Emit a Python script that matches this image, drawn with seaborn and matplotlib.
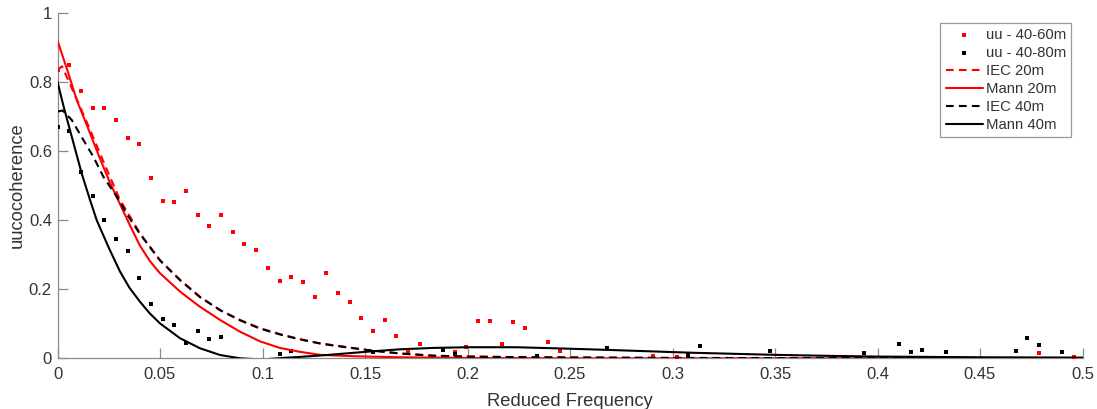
import numpy as np
import pandas as pd
import matplotlib
matplotlib.use("Agg")
import matplotlib.pyplot as plt
from matplotlib.ticker import FormatStrFormatter
import seaborn as sns

# Measured co-coherence, sampled on a reduced-frequency grid (step 0.0057)
DF = 0.0057
uu_4060_idx = [0, 1, 2, 3, 4, 5, 6, 7, 8, 9, 10, 11, 12, 13, 14, 15, 16, 17, 18, 19,
               20, 21, 22, 23, 24, 25, 26, 27, 28, 29, 30, 31, 34, 35, 36, 37, 38, 39,
               40, 42, 43, 51, 53, 84, 87]
uu_4060_val = [0.834, 0.848, 0.773, 0.723, 0.723, 0.690, 0.637, 0.619, 0.521, 0.456,
               0.451, 0.484, 0.414, 0.384, 0.415, 0.365, 0.332, 0.312, 0.260, 0.223,
               0.236, 0.220, 0.176, 0.246, 0.190, 0.162, 0.116, 0.080, 0.112, 0.065,
               0.017, 0.042, 0.017, 0.032, 0.108, 0.108, 0.041, 0.105, 0.089, 0.046,
               0.020, 0.006, 0.004, 0.014, 0.005]

uu_4080_idx = [0, 1, 2, 3, 4, 5, 6, 7, 8, 9, 10, 11, 12, 13, 14, 19, 20, 27, 33, 34,
               41, 47, 54, 55, 61, 69, 72, 73, 74, 76, 82, 83, 84, 86]
uu_4080_val = [0.670, 0.658, 0.538, 0.471, 0.401, 0.345, 0.310, 0.233, 0.157, 0.113,
               0.096, 0.043, 0.079, 0.056, 0.061, 0.012, 0.021, 0.019, 0.024, 0.013,
               0.008, 0.030, 0.010, 0.035, 0.020, 0.015, 0.041, 0.018, 0.023, 0.019,
               0.021, 0.059, 0.038, 0.017]

# Model curves
iec20_f = [0, 0.0022, 0.005, 0.011, 0.0159, 0.0207, 0.0256, 0.0305, 0.0354, 0.0402,
           0.05, 0.0598, 0.0695, 0.0793, 0.089, 0.0988, 0.1085, 0.118, 0.128, 0.1345,
           0.151, 0.167, 0.1833, 0.2, 0.23, 0.3, 0.4, 0.5]
iec20_c = [0.834, 0.845, 0.808, 0.728, 0.661, 0.593, 0.525, 0.458, 0.410, 0.362,
           0.284, 0.227, 0.178, 0.140, 0.111, 0.087, 0.070, 0.056, 0.043, 0.038,
           0.024, 0.014, 0.0075, 0.005, 0.003, 0.001, 0.0005, 0.0]

iec40_f = [0, 0.0025, 0.0069, 0.0126, 0.0175, 0.0224, 0.0289, 0.0346, 0.0402, 0.05,
           0.0598, 0.0695, 0.0793, 0.089, 0.0988, 0.1085, 0.118, 0.128, 0.1345, 0.151,
           0.167, 0.1833, 0.2, 0.23, 0.3, 0.4, 0.5]
iec40_c = [0.714, 0.717, 0.690, 0.632, 0.583, 0.525, 0.468, 0.410, 0.360, 0.283,
           0.226, 0.177, 0.139, 0.110, 0.086, 0.069, 0.055, 0.043, 0.037, 0.024,
           0.014, 0.0075, 0.005, 0.003, 0.001, 0.0005, 0.0]

mann20_f = [0, 0.005, 0.0094, 0.0159, 0.0207, 0.0256, 0.0305, 0.035, 0.0402, 0.045,
            0.05, 0.0598, 0.0695, 0.0793, 0.089, 0.0988, 0.1085, 0.118, 0.128, 0.14,
            0.151, 0.167, 0.2, 0.25, 0.3, 0.4, 0.5]
mann20_c = [0.919, 0.830, 0.747, 0.651, 0.578, 0.508, 0.446, 0.389, 0.326, 0.282,
            0.246, 0.193, 0.149, 0.111, 0.077, 0.049, 0.030, 0.019, 0.010, 0.007,
            0.005, 0.003, 0.001, 0.0, 0.0, 0.0, 0.0]

mann40_f = [0, 0.003, 0.0061, 0.0118, 0.0155, 0.0191, 0.025, 0.0305, 0.035, 0.0402,
            0.045, 0.05, 0.0598, 0.0695, 0.0793, 0.089, 0.095, 0.1004, 0.11, 0.118,
            0.128, 0.1345, 0.1508, 0.167, 0.1833, 0.1996, 0.224, 0.2484, 0.27, 0.31,
            0.35, 0.377, 0.4, 0.45, 0.5]
mann40_c = [0.800, 0.728, 0.660, 0.535, 0.465, 0.400, 0.320, 0.251, 0.205, 0.164,
            0.130, 0.101, 0.058, 0.029, 0.0095, 0.0, -0.002, -0.003, 0.001, 0.004,
            0.008, 0.011, 0.019, 0.026, 0.030, 0.032, 0.032, 0.028, 0.024, 0.016,
            0.010, 0.007, 0.005, 0.003, 0.002]

x_ticks = [0, 0.05, 0.1, 0.15, 0.2, 0.25, 0.3, 0.35, 0.4, 0.45, 0.5]
y_ticks = [0, 0.2, 0.4, 0.6, 0.8, 1.0]

sns.set_theme(style="white")
plt.rcParams["font.family"] = ["Liberation Sans", "DejaVu Sans"]

AXIS_GREY = "#8a8a8a"
TEXT_DARK = "#333333"

fig = plt.figure(figsize=(10.97, 4.09), dpi=100)
ax = fig.add_axes([57.5 / 1097, (409 - 358.3) / 409, 1025 / 1097, 345.6 / 409])

meas_a = pd.DataFrame({"f": np.array(uu_4060_idx) * DF, "coh": uu_4060_val})
meas_b = pd.DataFrame({"f": np.array(uu_4080_idx) * DF, "coh": uu_4080_val})

sns.scatterplot(data=meas_a, x="f", y="coh", color="#ff0000", marker="s", s=10,
                linewidth=0, label="uu - 40-60m", ax=ax, zorder=3)
sns.scatterplot(data=meas_b, x="f", y="coh", color="#000000", marker="s", s=10,
                linewidth=0, label="uu - 40-80m", ax=ax, zorder=3)

dash = (3.7, 2.5)
sns.lineplot(x=iec20_f, y=iec20_c, color="#ff0000", linewidth=1.5,
             label="IEC 20m", ax=ax, zorder=4).lines[-1].set_dashes(dash)
sns.lineplot(x=mann20_f, y=mann20_c, color="#ff0000", linewidth=1.5,
             label="Mann 20m", ax=ax, zorder=4)
sns.lineplot(x=iec40_f, y=iec40_c, color="#000000", linewidth=1.5,
             label="IEC 40m", ax=ax, zorder=4).lines[-1].set_dashes(dash)
sns.lineplot(x=mann40_f, y=mann40_c, color="#000000", linewidth=1.5,
             label="Mann 40m", ax=ax, zorder=4)

ax.set_xlim(0, 0.5)
ax.set_ylim(0, 1)
ax.set_xticks(x_ticks)
ax.set_yticks(y_ticks)
ax.xaxis.set_major_formatter(FormatStrFormatter("%g"))
ax.yaxis.set_major_formatter(FormatStrFormatter("%g"))

sns.despine(ax=ax)
for side in ("left", "bottom"):
    ax.spines[side].set_color(AXIS_GREY)
    ax.spines[side].set_linewidth(0.9)

ax.tick_params(axis="both", which="major", bottom=True, left=True, top=False,
               right=False, direction="in", length=7, width=0.9,
               color=AXIS_GREY, labelcolor=TEXT_DARK, labelsize=12)
ax.tick_params(axis="x", pad=6)
ax.tick_params(axis="y", pad=4)
ax.set_xlabel("Reduced Frequency", fontsize=13.2, color=TEXT_DARK, labelpad=8)
ax.set_ylabel("uucocoherence", fontsize=13.2, color=TEXT_DARK, labelpad=2)

handles, labels = ax.get_legend_handles_labels()
leg = ax.legend(handles, labels, loc="upper right", bbox_to_anchor=(0.989, 0.971),
                bbox_transform=ax.transAxes, borderaxespad=0.0,
                fontsize=10.7, frameon=True, fancybox=False, framealpha=1,
                edgecolor="#9a9a9a", handlelength=2.5, handletextpad=0.2,
                labelspacing=0.27, borderpad=0.35, scatterpoints=1)
leg.get_frame().set_linewidth(0.9)
for t in leg.get_texts():
    t.set_color(TEXT_DARK)

fig.savefig("out.png", dpi=100, facecolor="white")
